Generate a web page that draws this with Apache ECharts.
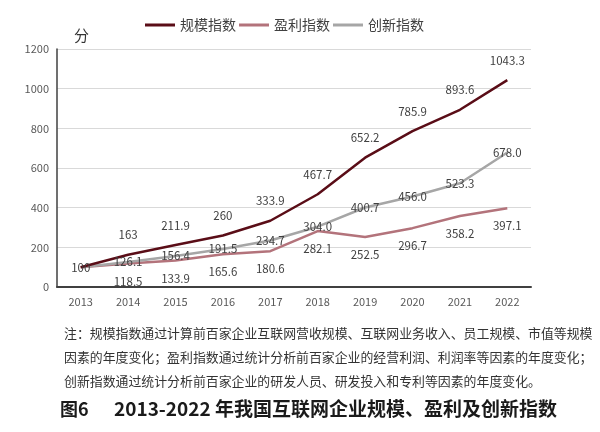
<!DOCTYPE html>
<html>
<head>
<meta charset="utf-8">
<script src="https://cdn.jsdelivr.net/npm/echarts@6/dist/echarts.min.js"></script>
<style>
  html, body { margin: 0; padding: 0; background: #fff; }
  #chart { width: 600px; height: 432px; }
</style>
</head>
<body>
<div id="chart"></div>
<script>
const years = ['2013', '2014', '2015', '2016', '2017', '2018', '2019', '2020', '2021', '2022']
const scale = [100, 163, 211.9, 260, 333.9, 467.7, 652.2, 785.9, 893.6, 1043.3]
const profit = [100, 118.5, 133.9, 165.6, 180.6, 282.1, 252.5, 296.7, 358.2, 397.1]
const innovation = [100, 126.1, 156.4, 191.5, 234.7, 304.0, 400.7, 456.0, 523.3, 678.0]
const yTicks = [0, 200, 400, 600, 800, 1000, 1200]

const noteLines = [
  '注：规模指数通过计算前百家企业互联网营收规模、互联网业务收入、员工规模、市值等规模',
  '因素的年度变化；盈利指数通过统计分析前百家企业的经营利润、利润率等因素的年度变化；',
  '创新指数通过统计分析前百家企业的研发人员、研发投入和专利等因素的年度变化。',
]
const captionNo = '图6'
const caption = '2013-2022 年我国互联网企业规模、盈利及创新指数'

const FONT = '"Noto Sans CJK SC", "Noto Sans", sans-serif'
const LABEL = { color: '#404040', fontSize: 11.5, fontFamily: FONT }

const chart = echarts.init(document.getElementById('chart'))

// 2013 shares one "100" label, drawn centred on the innovation series only
const hideFirst = (fmt) => (p) => (p.dataIndex === 0 ? '' : fmt(p.value))

// invisible symbols so the point labels still render
const dot = { symbol: 'circle', symbolSize: 0, showSymbol: true }

chart.setOption({
  animation: false,
  backgroundColor: '#fff',
  textStyle: { fontFamily: FONT },
  grid: { left: 57, right: 69, top: 49, bottom: 145 },
  legend: {
    top: 13,
    left: 140,
    icon: 'rect',
    itemWidth: 30,
    itemHeight: 3,
    itemGap: 3,
    textStyle: { color: '#404040', fontSize: 14, fontFamily: FONT },
    data: ['规模指数', '盈利指数', '创新指数'],
  },
  xAxis: {
    type: 'category',
    data: years,
    boundaryGap: true,
    axisLine: { lineStyle: { color: '#404040', width: 2 } },
    axisTick: { show: false },
    axisLabel: { color: '#595959', fontSize: 11, margin: 9 },
  },
  yAxis: {
    type: 'value',
    min: yTicks[0],
    max: yTicks[yTicks.length - 1],
    interval: 200,
    axisLine: { show: true, lineStyle: { color: '#404040', width: 1.5 } },
    axisTick: { show: false },
    axisLabel: { color: '#595959', fontSize: 11, margin: 8, formatter: (v) => String(v) },
    splitLine: { lineStyle: { color: '#d9d9d9' } },
  },
  series: [
    {
      name: '盈利指数',
      type: 'line',
      data: profit,
      ...dot,
      lineStyle: { color: '#b3737b', width: 2.5 },
      itemStyle: { color: '#b3737b' },
      label: { show: true, position: 'bottom', distance: 12, ...LABEL, formatter: hideFirst((v) => String(v)) },
    },
    {
      name: '创新指数',
      type: 'line',
      data: innovation,
      ...dot,
      lineStyle: { color: '#a6a6a6', width: 2.5 },
      itemStyle: { color: '#a6a6a6' },
      label: { show: true, position: 'inside', ...LABEL, formatter: (p) => (p.dataIndex === 0 ? String(p.value) : p.value.toFixed(1)) },
    },
    {
      name: '规模指数',
      type: 'line',
      data: scale,
      ...dot,
      lineStyle: { color: '#5a0d17', width: 2.5 },
      itemStyle: { color: '#5a0d17' },
      label: { show: true, position: 'top', distance: 14, ...LABEL, formatter: hideFirst((v) => String(v)) },
    },
  ],
  graphic: [
    { type: 'text', left: 74, top: 28, style: { text: '分', fill: '#333', font: '15px ' + FONT } },
    ...noteLines.map((t, i) => ({
      type: 'text',
      left: 64,
      top: 327 + i * 24,
      style: { text: t, fill: '#333', font: '12.9px ' + FONT },
    })),
    { type: 'text', left: 60, top: 400, style: { text: captionNo, fill: '#1a1a1a', font: 'bold 18px ' + FONT } },
    { type: 'text', left: 114, top: 399, style: { text: caption, fill: '#1a1a1a', font: 'bold 19px ' + FONT } },
  ],
})
</script>
</body>
</html>
